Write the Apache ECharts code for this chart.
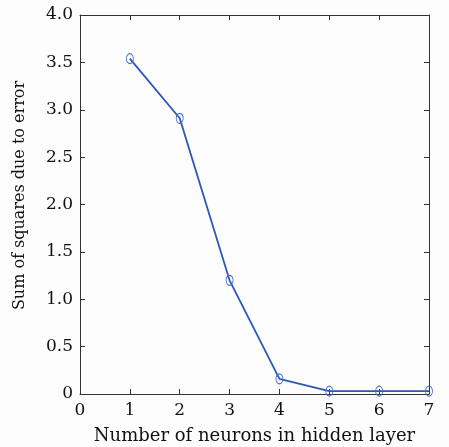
<!DOCTYPE html>
<html><head><meta charset="utf-8">
<script src="https://cdn.jsdelivr.net/npm/echarts@6/dist/echarts.min.js"></script>
<style>html,body{margin:0;padding:0;background:#fdfdfd}#c{width:449px;height:447px}</style>
</head><body><div id="c"></div>
<script>
var neurons = [1, 2, 3, 4, 5, 6, 7];
var sse = [3.54, 2.91, 1.20, 0.16, 0.03, 0.03, 0.03];
var xTitle = 'Number of neurons in hidden layer';
var yTitle = 'Sum of squares due to error';
var font = 'DejaVu Serif';
var chart = echarts.init(document.getElementById('c'));
var axisCommon = {
  axisLine: {show: true, onZero: false, lineStyle: {color: '#333', width: 1}},
  axisTick: {show: true, inside: true, length: 5, lineStyle: {color: '#333'}},
  splitLine: {show: false}
};
chart.setOption({
  backgroundColor: '#fdfdfd',
  animation: false,
  grid: {left: 80, right: 20, top: 15, bottom: 53, containLabel: false, outerBoundsMode: 'none'},
  xAxis: [
    Object.assign({type: 'value', min: 0, max: 7, interval: 1, position: 'bottom',
      name: xTitle, nameLocation: 'middle', nameGap: 33,
      nameTextStyle: {fontFamily: font, fontSize: 18, color: '#111'},
      axisLabel: {fontFamily: font, fontSize: 17, color: '#111', margin: 8}}, axisCommon),
    Object.assign({type: 'value', min: 0, max: 7, interval: 1, position: 'top',
      axisLabel: {show: false}}, axisCommon)
  ],
  yAxis: [
    Object.assign({type: 'value', min: 0, max: 4, interval: 0.5, position: 'left',
      name: yTitle, nameLocation: 'middle', nameGap: 52,
      nameTextStyle: {fontFamily: font, fontSize: 16, color: '#111', padding: [0, 0, 0, 18]},
      axisLabel: {fontFamily: font, fontSize: 17, color: '#111', margin: 7,
        formatter: function (v) { return v === 0 ? '0' : v.toFixed(1); }}}, axisCommon),
    Object.assign({type: 'value', min: 0, max: 4, interval: 0.5, position: 'right',
      axisLabel: {show: false}}, axisCommon)
  ],
  series: [{
    type: 'line',
    data: neurons.map(function (n, i) { return [n, sse[i]]; }),
    symbol: 'circle',
    symbolSize: [7, 10],
    lineStyle: {color: '#2d57b4', width: 1.8},
    itemStyle: {color: 'rgba(0,0,0,0)', borderColor: '#4a6cc4', borderWidth: 1},
    clip: false
  }]
});
</script></body></html>
